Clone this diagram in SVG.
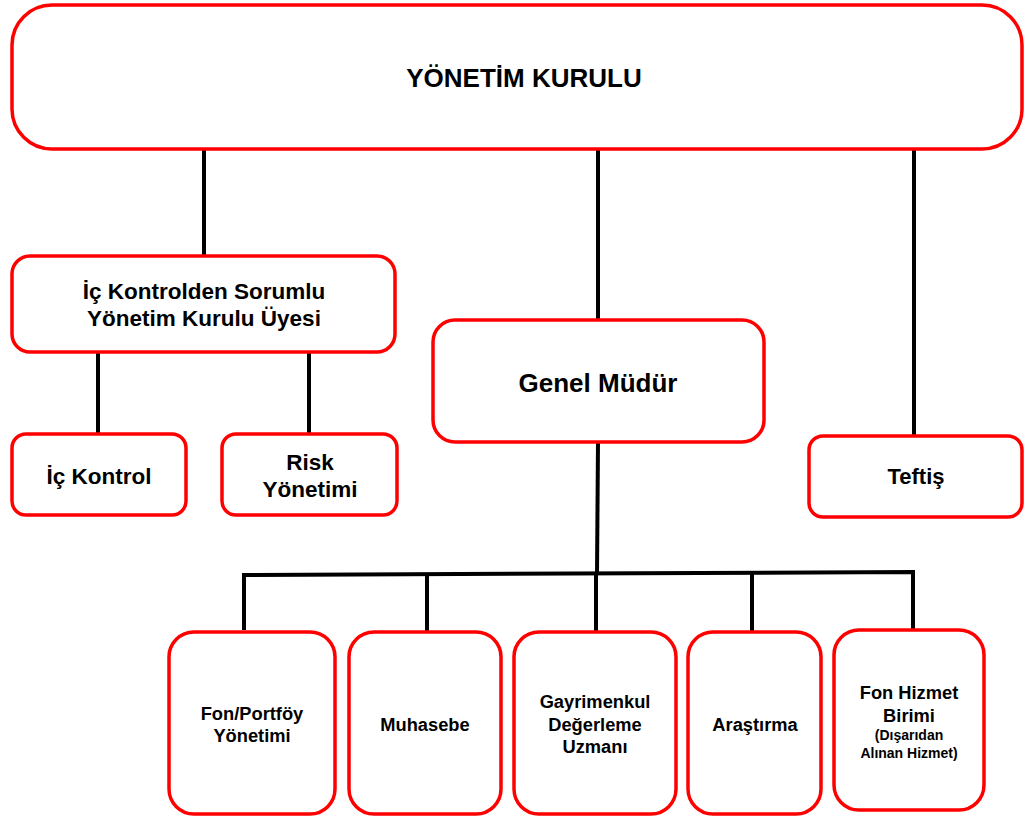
<svg xmlns="http://www.w3.org/2000/svg" width="1030" height="816" viewBox="0 0 1030 816">
<style>
.box{fill:#fff;stroke:#ff0000;stroke-width:3.5}
.t{font-family:"Liberation Sans",Arial,sans-serif;font-weight:bold;fill:#000;text-anchor:middle}
.ln{stroke:#000;stroke-width:4;fill:none}
</style>
<rect width="1030" height="816" fill="#fff"/>
<g id="connectors">
<line class="ln" x1="204" y1="149" x2="204" y2="257"/>
<line class="ln" x1="598" y1="149" x2="598" y2="321"/>
<line class="ln" x1="914" y1="149" x2="914" y2="437"/>
<line class="ln" x1="98" y1="352" x2="98" y2="435"/>
<line class="ln" x1="309" y1="352" x2="309" y2="435"/>
<line class="ln" x1="598" y1="442" x2="597" y2="574"/>
<polyline class="ln" points="244,630 244,575 913,572 913,630"/>
<line class="ln" x1="427" y1="574" x2="427" y2="632"/>
<line class="ln" x1="596" y1="573" x2="596" y2="632"/>
<line class="ln" x1="752" y1="573" x2="752" y2="632"/>
</g>
<g id="yonetim-kurulu"><rect class="box" x="12" y="5" width="1010" height="144" rx="40"/><text class="t" x="524" y="87" font-size="26">YÖNETİM KURULU</text></g>
<g id="ic-kontrolden"><rect class="box" x="12" y="256" width="383" height="96" rx="18"/><text class="t" x="204" y="299" font-size="22.5">İç Kontrolden Sorumlu</text><text class="t" x="204" y="326" font-size="22.5">Yönetim Kurulu Üyesi</text></g>
<g id="ic-kontrol"><rect class="box" x="12" y="434" width="174" height="81" rx="14"/><text class="t" x="99" y="484" font-size="22.5">İç Kontrol</text></g>
<g id="risk"><rect class="box" x="222" y="434" width="175" height="81" rx="14"/><text class="t" x="310" y="470" font-size="22.5">Risk</text><text class="t" x="310" y="497" font-size="22.5">Yönetimi</text></g>
<g id="genel-mudur"><rect class="box" x="433" y="320" width="331" height="122" rx="22"/><text class="t" x="598" y="392" font-size="26">Genel Müdür</text></g>
<g id="teftis"><rect class="box" x="809" y="436" width="213" height="81" rx="14"/><text class="t" x="916" y="484" font-size="22">Teftiş</text></g>
<g id="fon-portfoy"><rect class="box" x="169" y="632" width="166" height="182" rx="25"/><text class="t" x="252" y="720" font-size="18.3">Fon/Portföy</text><text class="t" x="252" y="742" font-size="18.3">Yönetimi</text></g>
<g id="muhasebe"><rect class="box" x="349" y="632" width="152" height="182" rx="25"/><text class="t" x="425" y="731" font-size="18.3">Muhasebe</text></g>
<g id="gayrimenkul"><rect class="box" x="514" y="632" width="162" height="182" rx="25"/><text class="t" x="595" y="708" font-size="18.3">Gayrimenkul</text><text class="t" x="595" y="731" font-size="18.3">Değerleme</text><text class="t" x="595" y="753" font-size="18.3">Uzmanı</text></g>
<g id="arastirma"><rect class="box" x="688" y="632" width="133" height="182" rx="25"/><text class="t" x="755" y="731" font-size="18.3">Araştırma</text></g>
<g id="fon-hizmet"><rect class="box" x="834" y="630" width="150" height="180" rx="25"/><text class="t" x="909" y="699" font-size="18.3">Fon Hizmet</text><text class="t" x="909" y="722" font-size="18.3">Birimi</text><text class="t" x="909" y="740" font-size="14">(Dışarıdan</text><text class="t" x="909" y="758" font-size="14">Alınan Hizmet)</text></g>
</svg>
